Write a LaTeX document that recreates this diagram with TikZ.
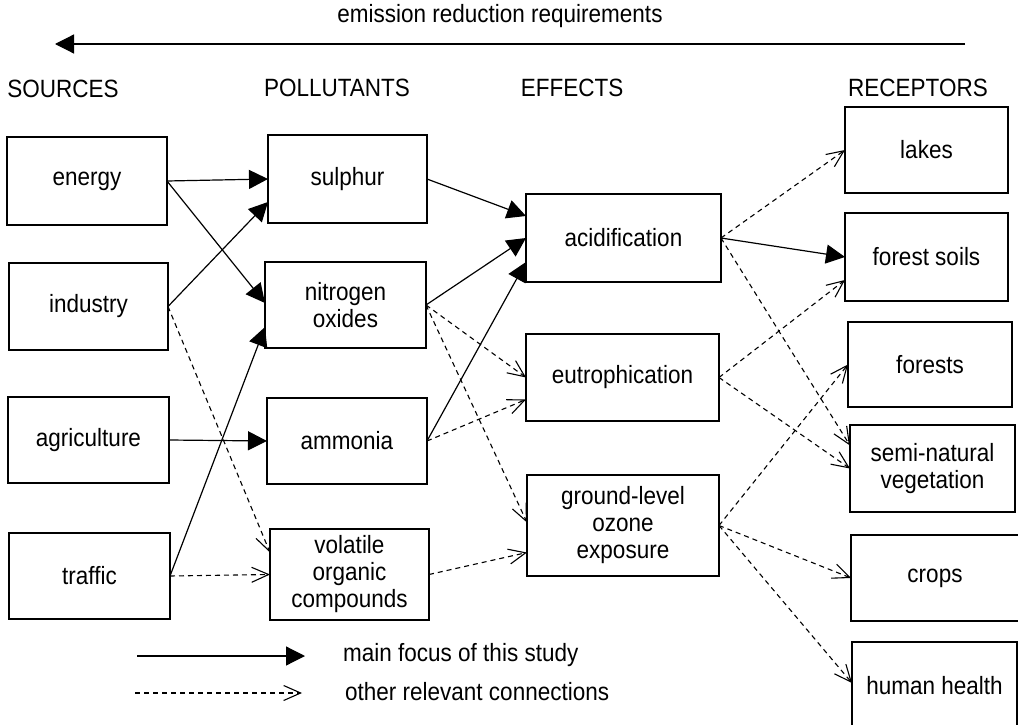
\documentclass[tikz,border=0pt]{standalone}
\usepackage{fontspec}
\setmainfont{Liberation Sans}[FakeStretch=0.9]
\usetikzlibrary{arrows.meta,calc}

\tikzset{
  box/.style={draw=black, line width=1.1pt, inner sep=0pt, outer sep=0pt,
    align=center, font=\fontsize{25}{27}\selectfont},
  heading/.style={inner sep=0pt, font=\fontsize{25}{27}\selectfont},
  label/.style={inner sep=0pt, anchor=west, font=\fontsize{25}{27}\selectfont},
  mainlink/.style={draw=black, line width=1.2pt,
    -{Triangle[length=19pt,width=19pt]}},
  otherlink/.style={draw=black, line width=1.1pt, dash pattern=on 5pt off 4pt,
    -{Straight Barb[length=17pt,width=15pt,line width=1.1pt]}}
}

\begin{document}
\begin{tikzpicture}[x=1pt,y=-1pt]
\useasboundingbox (0,0) rectangle (1018,725);
\fill[white] (0,0) rectangle (1018,725);
\clip (0,0) rectangle (1018,725);

% title and direction of the requirements
\node[heading] (title) at (500,16) {emission reduction requirements};
\coordinate (reqR) at (965,44);
\coordinate (reqL) at (55,44);
\draw[mainlink] (reqR) -- (reqL);

% column headings
\node[heading] (hsrc) at (63,89) {SOURCES};
\node[heading] (hpol) at (337,88) {POLLUTANTS};
\node[heading] (heff) at (572,88) {EFFECTS};
\node[heading] (hrec) at (918,88) {RECEPTORS};

% sources
\node[box, minimum width=160pt, minimum height=88pt] (energy) at (87,181) {energy};
\node[box, minimum width=159pt, minimum height=87pt] (industry) at (88.5,306.5) {industry};
\node[box, minimum width=161pt, minimum height=86pt] (agri) at (88.5,440) {agriculture};
\node[box, minimum width=161pt, minimum height=86pt] (traffic) at (89.5,576) {traffic};

% pollutants
\node[box, minimum width=159pt, minimum height=88pt] (sulphur) at (347.5,179) {sulphur};
\node[box, minimum width=161pt, minimum height=86pt] (nox) at (345.5,305) {nitrogen\\oxides};
\node[box, minimum width=160pt, minimum height=86pt] (ammonia) at (347,441) {ammonia};
\node[box, minimum width=159pt, minimum height=91pt] (voc) at (349.5,574.5) {volatile\\organic\\compounds};

% effects
\node[box, minimum width=195pt, minimum height=88pt] (acid) at (623.5,238) {acidification};
\node[box, minimum width=193pt, minimum height=87pt] (eutro) at (622.5,377.5) {eutrophication};
\node[box, minimum width=192pt, minimum height=101pt] (ozone) at (623,525.5) {ground-level\\ozone\\exposure};

% receptors
\node[box, minimum width=163pt, minimum height=86pt] (lakes) at (926.5,150) {lakes};
\node[box, minimum width=163pt, minimum height=88pt] (fsoils) at (926.5,257) {forest soils};
\node[box, minimum width=164pt, minimum height=85pt] (forests) at (930,364.5) {forests};
\node[box, minimum width=165pt, minimum height=87pt] (semi) at (932.5,468.5) {semi-natural\\vegetation};
\node[box, minimum width=168pt, minimum height=86pt] (crops) at (935,578) {crops};
\node[box, minimum width=165pt, minimum height=88pt] (health) at (934.5,686) {human health};

% main connections
\draw[mainlink] (energy.east) -- (sulphur.west);
\draw[mainlink] (energy.east) -- ($(nox.west)+(0,-2)$);
\draw[mainlink] (industry.east) -- ($(sulphur.west)+(0,23)$);
\draw[mainlink] (agri.east) -- (ammonia.west);
\draw[mainlink] (traffic.east) -- ($(nox.west)+(0,22)$);
\draw[mainlink] (sulphur.east) -- ($(acid.west)+(0,-22)$);
\draw[mainlink] (nox.east) -- (acid.west);
\draw[mainlink] (ammonia.east) -- ($(acid.west)+(0,24)$);
\draw[mainlink] (acid.east) -- (fsoils.west);

% other relevant connections
\draw[otherlink] (industry.east) -- ($(voc.west)+(0,-22)$);
\draw[otherlink] (traffic.east) -- (voc.west);
\draw[otherlink] (nox.east) -- (eutro.west);
\draw[otherlink] (ammonia.east) -- ($(eutro.west)+(0,22)$);
\draw[otherlink] (nox.east) -- ($(ozone.west)+(0,-3)$);
\draw[otherlink] (voc.east) -- ($(ozone.west)+(0,27)$);
\draw[otherlink] (acid.east) -- (lakes.west);
\draw[otherlink] (acid.east) -- ($(semi.west)+(0,-23)$);
\draw[otherlink] (eutro.east) -- ($(fsoils.west)+(0,23)$);
\draw[otherlink] (eutro.east) -- (semi.west);
\draw[otherlink] (ozone.east) -- (forests.west);
\draw[otherlink] (ozone.east) -- (crops.west);
\draw[otherlink] (ozone.east) -- ($(health.west)+(0,-3)$);

% legend
\coordinate (lgMainA) at (137,656);
\coordinate (lgMainB) at (305,656);
\coordinate (lgOtherA) at (135,693);
\coordinate (lgOtherB) at (302,693);
\draw[mainlink] (lgMainA) -- (lgMainB);
\draw[otherlink] (lgOtherA) -- (lgOtherB);
\node[label] (lgMainT) at (343,655) {main focus of this study};
\node[label] (lgOtherT) at (345,692) {other relevant connections};
\end{tikzpicture}
\end{document}
